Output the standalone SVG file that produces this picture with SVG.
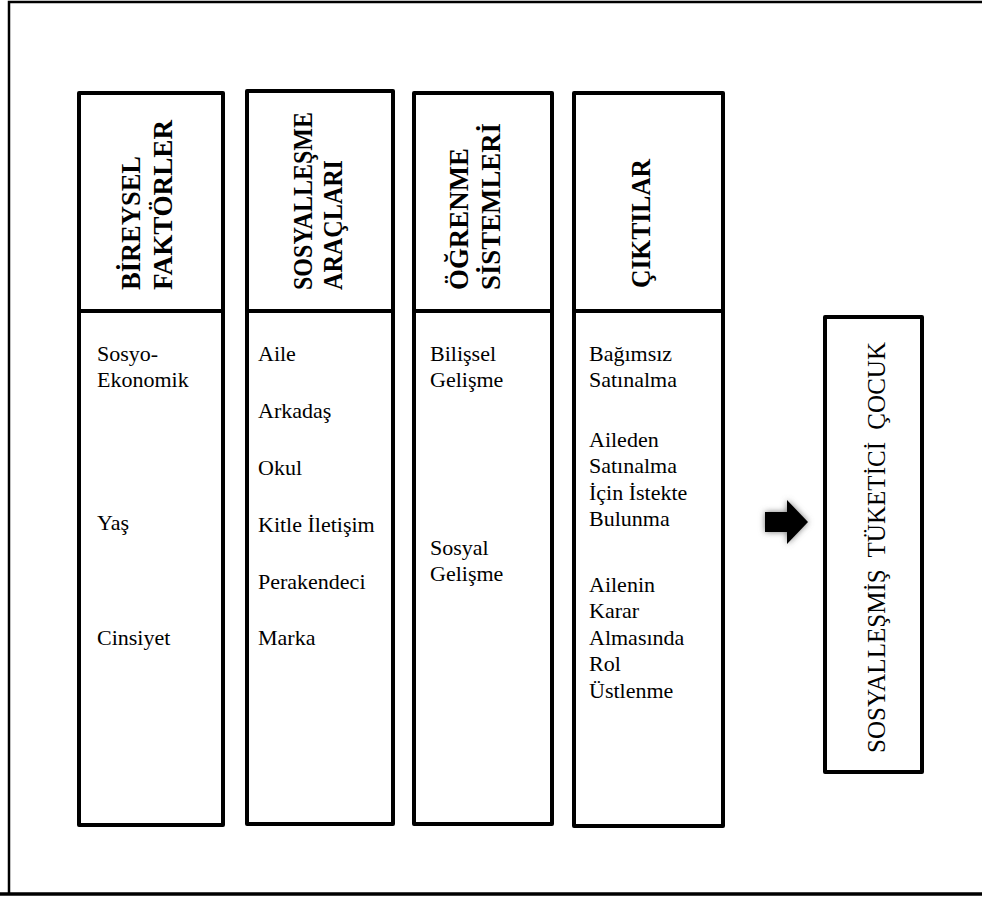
<svg xmlns="http://www.w3.org/2000/svg" width="982" height="897" viewBox="0 0 982 897">
<defs>
<style>
.box{fill:#fff;stroke:#000;stroke-width:4;stroke-linejoin:round}
.hd{font-family:"Liberation Serif","Times New Roman",serif;font-weight:bold;font-size:27px;fill:#000}
.tx{font-family:"Liberation Serif","Times New Roman",serif;font-size:22px;fill:#000}
.big{font-family:"Liberation Serif","Times New Roman",serif;font-size:25px;fill:#000;word-spacing:6px}
</style>
<filter id="glow" x="-50%" y="-50%" width="200%" height="200%">
<feGaussianBlur stdDeviation="3"/>
</filter>
</defs>
<rect width="982" height="897" fill="#fff"/>
<g id="frame" fill="none" stroke="#000">
<path d="M9 894 V2 H982" stroke-width="2.5"/>
<path d="M0 894 H982" stroke-width="3.5"/>
</g>
<g id="col1">
<rect class="box" x="79" y="93" width="144" height="218"/>
<rect class="box" x="79" y="311" width="144" height="514"/>
<text class="hd" transform="translate(140,290) rotate(-90)" textLength="134" lengthAdjust="spacingAndGlyphs">BİREYSEL</text>
<text class="hd" transform="translate(172,290) rotate(-90)" textLength="170" lengthAdjust="spacingAndGlyphs">FAKTÖRLER</text>
<text class="tx" x="97" y="361">Sosyo-</text>
<text class="tx" x="97" y="387">Ekonomik</text>
<text class="tx" x="97" y="530">Yaş</text>
<text class="tx" x="97" y="645">Cinsiyet</text>
</g>
<g id="col2">
<rect class="box" x="247" y="91" width="146" height="220"/>
<rect class="box" x="247" y="311" width="146" height="513"/>
<text class="hd" transform="translate(312,290) rotate(-90)" textLength="178" lengthAdjust="spacingAndGlyphs">SOSYALLEŞME</text>
<text class="hd" transform="translate(342,290) rotate(-90)" textLength="130" lengthAdjust="spacingAndGlyphs">ARAÇLARI</text>
<text class="tx" x="258" y="361">Aile</text>
<text class="tx" x="258" y="418">Arkadaş</text>
<text class="tx" x="258" y="475">Okul</text>
<text class="tx" x="258" y="532">Kitle İletişim</text>
<text class="tx" x="258" y="589">Perakendeci</text>
<text class="tx" x="258" y="645">Marka</text>
</g>
<g id="col3">
<rect class="box" x="414" y="93" width="138" height="218"/>
<rect class="box" x="414" y="311" width="138" height="513"/>
<text class="hd" transform="translate(468,290) rotate(-90)" textLength="142" lengthAdjust="spacingAndGlyphs">ÖĞRENME</text>
<text class="hd" transform="translate(500,290) rotate(-90)" textLength="167" lengthAdjust="spacingAndGlyphs">SİSTEMLERİ</text>
<text class="tx" x="430" y="361">Bilişsel</text>
<text class="tx" x="430" y="387">Gelişme</text>
<text class="tx" x="430" y="555">Sosyal</text>
<text class="tx" x="430" y="581">Gelişme</text>
</g>
<g id="col4">
<rect class="box" x="574" y="93" width="149" height="218"/>
<rect class="box" x="574" y="311" width="149" height="515"/>
<text class="hd" transform="translate(650,288) rotate(-90)" textLength="129" lengthAdjust="spacingAndGlyphs">ÇIKTILAR</text>
<text class="tx" x="589" y="361">Bağımsız</text>
<text class="tx" x="589" y="387">Satınalma</text>
<text class="tx" x="589" y="447">Aileden</text>
<text class="tx" x="589" y="473">Satınalma</text>
<text class="tx" x="589" y="500">İçin İstekte</text>
<text class="tx" x="589" y="526">Bulunma</text>
<text class="tx" x="589" y="592">Ailenin</text>
<text class="tx" x="589" y="618">Karar</text>
<text class="tx" x="589" y="645">Almasında</text>
<text class="tx" x="589" y="671">Rol</text>
<text class="tx" x="589" y="698">Üstlenme</text>
</g>
<g id="result">
<rect class="box" x="825" y="317" width="97" height="455"/>
<text class="big" transform="translate(885,753) rotate(-90)" textLength="411">SOSYALLEŞMİŞ TÜKETİCİ ÇOCUK</text>
</g>
<g id="connectors">
<path d="M765 512 H787 V500 L808 522 L787 544 V532 H765 Z" fill="#777" filter="url(#glow)"/>
<path d="M765 512 H787 V500 L808 522 L787 544 V532 H765 Z" fill="#000"/>
</g>
</svg>
